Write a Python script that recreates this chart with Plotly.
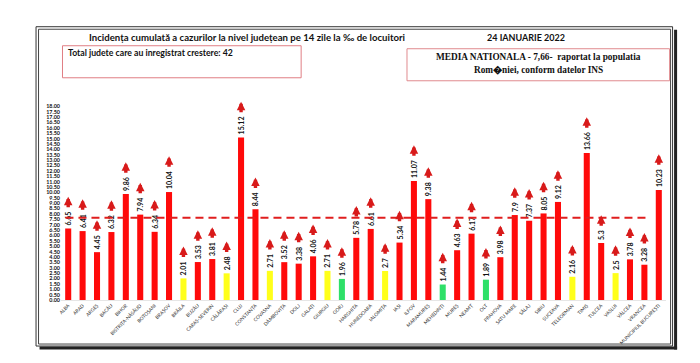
import plotly.graph_objects as go

counties = ["ALBA", "ARAD", "ARGEȘ", "BACĂU", "BIHOR", "BISTRIȚA-NĂSĂUD", "BOTOȘANI", "BRAȘOV",
            "BRĂILA", "BUZĂU", "CARAȘ-SEVERIN", "CĂLĂRAȘI", "CLUJ", "CONSTANȚA", "COVASNA",
            "DÂMBOVIȚA", "DOLJ", "GALAȚI", "GIURGIU", "GORJ", "HARGHITA", "HUNEDOARA", "IALOMIȚA",
            "IAȘI", "ILFOV", "MARAMUREȘ", "MEHEDINȚI", "MUREȘ", "NEAMȚ", "OLT", "PRAHOVA",
            "SATU MARE", "SĂLAJ", "SIBIU", "SUCEAVA", "TELEORMAN", "TIMIȘ", "TULCEA", "VASLUI",
            "VÂLCEA", "VRANCEA", "MUNICIPIUL BUCUREȘTI"]
values = [6.65, 6.41, 4.45, 6.32, 9.86, 7.94, 6.34, 10.04,
          2.01, 3.53, 3.81, 2.48, 15.12, 8.44, 2.71,
          3.52, 3.38, 4.06, 2.71, 1.96, 5.78, 6.61, 2.7,
          5.34, 11.07, 9.38, 1.44, 4.63, 6.17, 1.89, 3.98,
          7.9, 7.37, 8.05, 9.12, 2.16, 13.66, 5.3, 2.5,
          3.78, 3.28, 10.23]
# colour class of each bar: r = red, y = yellow, g = green
classes = ["r", "r", "r", "r", "r", "r", "r", "r",
           "y", "r", "r", "y", "r", "r", "y",
           "r", "r", "r", "y", "g", "r", "r", "y",
           "r", "r", "r", "g", "r", "r", "g", "r",
           "r", "r", "r", "r", "y", "r", "r", "y",
           "r", "r", "r"]
national_mean = 7.66
rising_total = 42
y_ticks = [i * 0.5 for i in range(37)]
y_tick_labels = [f"{t:.2f}" for t in y_ticks]

PALETTE = {"r": "#ff0a0a", "y": "#ffff1a", "g": "#2ee068"}
colors = [PALETTE[c] for c in classes]

W_FIG, H_FIG = 700, 363
L, R_, T, B = 52.5, 658.4, 92.2, 292.0
PW, PH = R_ - L, B - T

def px(x):
    return (x - L) / PW

def py(y):
    return (B - y) / PH

labels = [str(v) for v in values]

fig = go.Figure()
fig.add_trace(go.Bar(
    x=counties, y=values, marker=dict(color=colors, line=dict(width=0)),
    text=labels, textposition="outside", textangle=-90,
    textfont=dict(family="Lato", size=7, color="#111", weight="bold"),
    cliponaxis=False, constraintext="none", hoverinfo="x+y",
))

def text_len(s, size=7):
    return sum(0.26 * size if ch == "." else 0.57 * size for ch in s)

annotations = []
for c, v, s in zip(counties, values, labels):
    shift = 3 + text_len(s) + 3 + 12
    annotations.append(dict(
        x=c, y=v, xref="x", yref="y", text="", showarrow=True,
        ax=0, ay=12, axref="pixel", ayref="pixel", yshift=shift,
        arrowhead=2, arrowsize=0.5, arrowwidth=3.4, arrowcolor="#d81a1a", standoff=0,
    ))

annotations += [
    dict(x=px(79), y=py(30), xref="paper", yref="paper", xanchor="left", yanchor="middle",
         text="<b>Incidența cumulată a cazurilor la nivel județean pe 14 zile la ‰ de locuitori</b>",
         showarrow=False, font=dict(family="Lato", size=9.6, color="#111")),
    dict(x=px(518), y=py(30), xref="paper", yref="paper", xanchor="center", yanchor="middle",
         text="<b>24 IANUARIE 2022</b>", showarrow=False,
         font=dict(family="Lato", size=9, color="#111")),
    dict(x=px(58), y=py(45), xref="paper", yref="paper", xanchor="left", yanchor="middle",
         text=f"<b>Total judete care au inregistrat crestere: {rising_total}</b>", showarrow=False,
         font=dict(family="Lato", size=8.7, color="#111")),
    dict(x=px(531), y=py(49.5), xref="paper", yref="paper", xanchor="center", yanchor="middle",
         text="<b>MEDIA NATIONALA - 7,66-  raportat la populatia</b>", showarrow=False,
         font=dict(family="Liberation Serif", size=9.3, color="#111")),
    dict(x=px(531), y=py(62), xref="paper", yref="paper", xanchor="center", yanchor="middle",
         text="<b>Rom\ufffdniei, conform datelor INS</b>", showarrow=False,
         font=dict(family="Liberation Serif", size=9.3, color="#111")),
]

shapes = [
    dict(type="rect", xref="paper", yref="paper", x0=px(27.5), x1=px(665), y0=py(19), y1=py(338),
         line=dict(color="#333", width=1)),
    dict(type="rect", xref="paper", yref="paper", x0=px(30), x1=px(663), y0=py(21.5), y1=py(336),
         line=dict(color="#444", width=1)),
    dict(type="line", xref="paper", yref="paper", x0=px(668), x1=px(668), y0=py(22), y1=py(341.5),
         line=dict(color="#222", width=3)),
    dict(type="line", xref="paper", yref="paper", x0=px(31), x1=px(669.5), y0=py(340), y1=py(340),
         line=dict(color="#222", width=3)),
    dict(type="rect", xref="paper", yref="paper", x0=px(54), x1=px(293), y0=py(38), y1=py(70),
         line=dict(color="#e07e84", width=1)),
    dict(type="rect", xref="paper", yref="paper", x0=px(399), x1=px(662), y0=py(41), y1=py(73),
         line=dict(color="#e08a8e", width=1)),
    dict(type="line", xref="x", yref="y", x0=-0.19, x1=40.4, y0=national_mean, y1=national_mean,
         line=dict(color="#e01e1e", width=2, dash="8px,5px"), layer="above"),
]

fig.update_layout(
    width=W_FIG, height=H_FIG,
    margin=dict(l=L, r=W_FIG - R_, t=T, b=H_FIG - B, pad=0),
    paper_bgcolor="white", plot_bgcolor="white",
    bargap=0.58, showlegend=False,
    annotations=annotations, shapes=shapes,
    xaxis=dict(type="category", range=[-0.5, len(counties) - 0.5], tickangle=-45,
               tickfont=dict(family="Lato", size=4.8, color="#333"),
               showgrid=False, zeroline=False, showline=True, linecolor="#e6e6e6", linewidth=1,
               ticks="", fixedrange=True),
    yaxis=dict(range=[0, 18.6], tickmode="array", tickvals=y_ticks, ticktext=y_tick_labels,
               tickfont=dict(family="Lato", size=5.4, color="#111", weight="bold"),
               showgrid=False, zeroline=False, showline=False, ticks="", fixedrange=True),
    font=dict(family="Lato"),
)

fig.write_html("out.html")
